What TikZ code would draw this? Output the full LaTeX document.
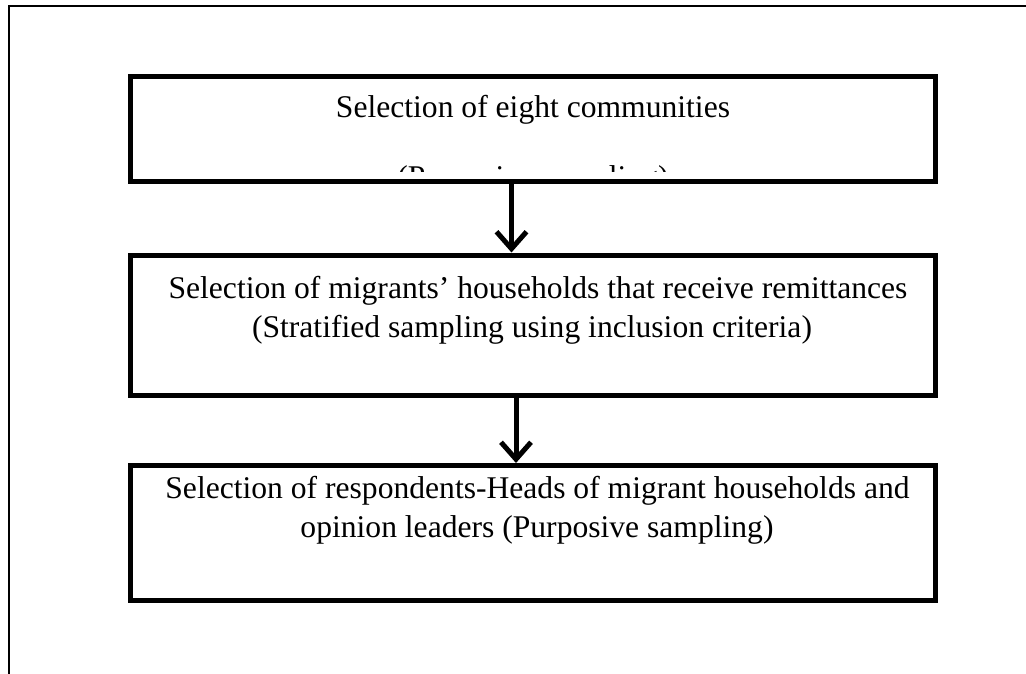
\documentclass[tikz,border=0pt]{standalone}
\usepackage{fontspec}
\setmainfont{Liberation Serif}
\usetikzlibrary{arrows.meta}
\tikzset{
  boxnode/.style={draw, rectangle, line width=5pt, inner sep=0pt, minimum width=805.5pt},
  txt/.style={anchor=base, inner sep=0pt, font=\fontsize{31.6}{39}\selectfont},
  arr/.style={line width=5pt, -{Straight Barb[length=17pt,width=30pt]}},
  frame/.style={line width=2pt}
}
\begin{document}
\begin{tikzpicture}[x=1pt,y=-1pt]
\useasboundingbox (0,0) rectangle (1026,674);
\draw[frame] (9,674) -- (9,6) -- (1026,6);
% boxes
\node[boxnode, minimum height=105pt] (b1) at (532.75,129) {};
\node[boxnode, minimum height=140.5pt] (b2) at (532.75,325.25) {};
\node[boxnode, minimum height=135pt] (b3) at (532.75,533) {};
% texts
\node[txt] (t11) at (533,118) {Selection of eight communities};
\begin{scope}
\clip (133,150) rectangle (933,172);
\node[txt] (t12) at (533,187) {(Purposive sampling)};
\end{scope}
\node[txt] (t21) at (538,298) {Selection of migrants’ households that receive remittances};
\node[txt] (t22) at (532,337) {(Stratified sampling using inclusion criteria)};
\node[txt] (t31) at (537.5,498) {Selection of respondents-Heads of migrant households and};
\node[txt] (t32) at (537,537) {opinion leaders (Purposive sampling)};
% connectors
\coordinate (xa) at (511.5,0);
\coordinate (xb) at (516,0);
\draw[arr] (b1.south -| xa) -- (b2.north -| xa);
\draw[arr] (b2.south -| xb) -- (b3.north -| xb);
\end{tikzpicture}
\end{document}
